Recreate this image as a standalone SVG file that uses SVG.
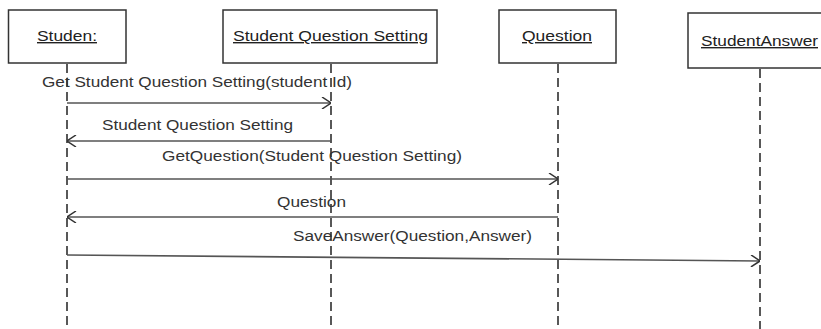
<svg xmlns="http://www.w3.org/2000/svg" width="821" height="329" viewBox="0 0 821 329">
<style>
.box{fill:#fff;stroke:#333;stroke-width:1.5}
.lbl{font-family:"Liberation Sans",Arial,sans-serif;font-size:14px;fill:#222;text-decoration:underline}
.msg{font-family:"Liberation Sans",Arial,sans-serif;font-size:14px;fill:#333}
.life{stroke:#222;stroke-width:1.5;stroke-dasharray:9 5;fill:none}
.arr{stroke:#555;stroke-width:1.6;fill:none}
</style>
<defs>
<marker id="open" viewBox="0 0 10 12" refX="10" refY="6" markerWidth="10" markerHeight="12" markerUnits="userSpaceOnUse" orient="auto">
<path d="M1,0 L10,6 L1,12" fill="none" stroke="#333" stroke-width="1.5"/>
</marker>
</defs>
<g id="lifelines">
<line class="life" x1="67" y1="64" x2="67" y2="329"/>
<line class="life" x1="331" y1="64" x2="331" y2="329"/>
<line class="life" x1="558" y1="64" x2="558" y2="329"/>
<line class="life" x1="760" y1="69" x2="760" y2="329"/>
</g>
<g id="node-studen">
<rect class="box" x="8.5" y="10" width="117.5" height="53"/>
<text class="lbl" x="37" y="41" textLength="60" lengthAdjust="spacingAndGlyphs">Studen:</text>
</g>
<g id="node-sqs">
<rect class="box" x="223" y="10" width="214" height="53"/>
<text class="lbl" x="233" y="41" textLength="195" lengthAdjust="spacingAndGlyphs">Student Question Setting</text>
</g>
<g id="node-question">
<rect class="box" x="499" y="10" width="117" height="53"/>
<text class="lbl" x="522" y="41" textLength="70" lengthAdjust="spacingAndGlyphs">Question</text>
</g>
<g id="node-studentanswer">
<rect class="box" x="688" y="13" width="140" height="55" stroke-width="2"/>
<text class="lbl" x="701" y="46" textLength="117" lengthAdjust="spacingAndGlyphs">StudentAnswer</text>
</g>
<g id="connectors">
<line class="arr" x1="67" y1="103" x2="331" y2="103" marker-end="url(#open)"/>
<text class="msg" x="42" y="87" textLength="310" lengthAdjust="spacingAndGlyphs">Get Student Question Setting(student Id)</text>
<line class="arr" x1="331" y1="141" x2="67" y2="141" marker-end="url(#open)"/>
<text class="msg" x="102" y="130" textLength="191" lengthAdjust="spacingAndGlyphs">Student Question Setting</text>
<line class="arr" x1="67" y1="179" x2="558" y2="179" marker-end="url(#open)"/>
<text class="msg" x="162" y="161" textLength="300" lengthAdjust="spacingAndGlyphs">GetQuestion(Student Question Setting)</text>
<line class="arr" x1="558" y1="217" x2="67" y2="217" marker-end="url(#open)"/>
<text class="msg" x="277" y="207" textLength="69" lengthAdjust="spacingAndGlyphs">Question</text>
<line class="arr" x1="67" y1="255" x2="760" y2="261" marker-end="url(#open)"/>
<text class="msg" x="293" y="241" textLength="239" lengthAdjust="spacingAndGlyphs">SaveAnswer(Question,Answer)</text>
</g>
</svg>
